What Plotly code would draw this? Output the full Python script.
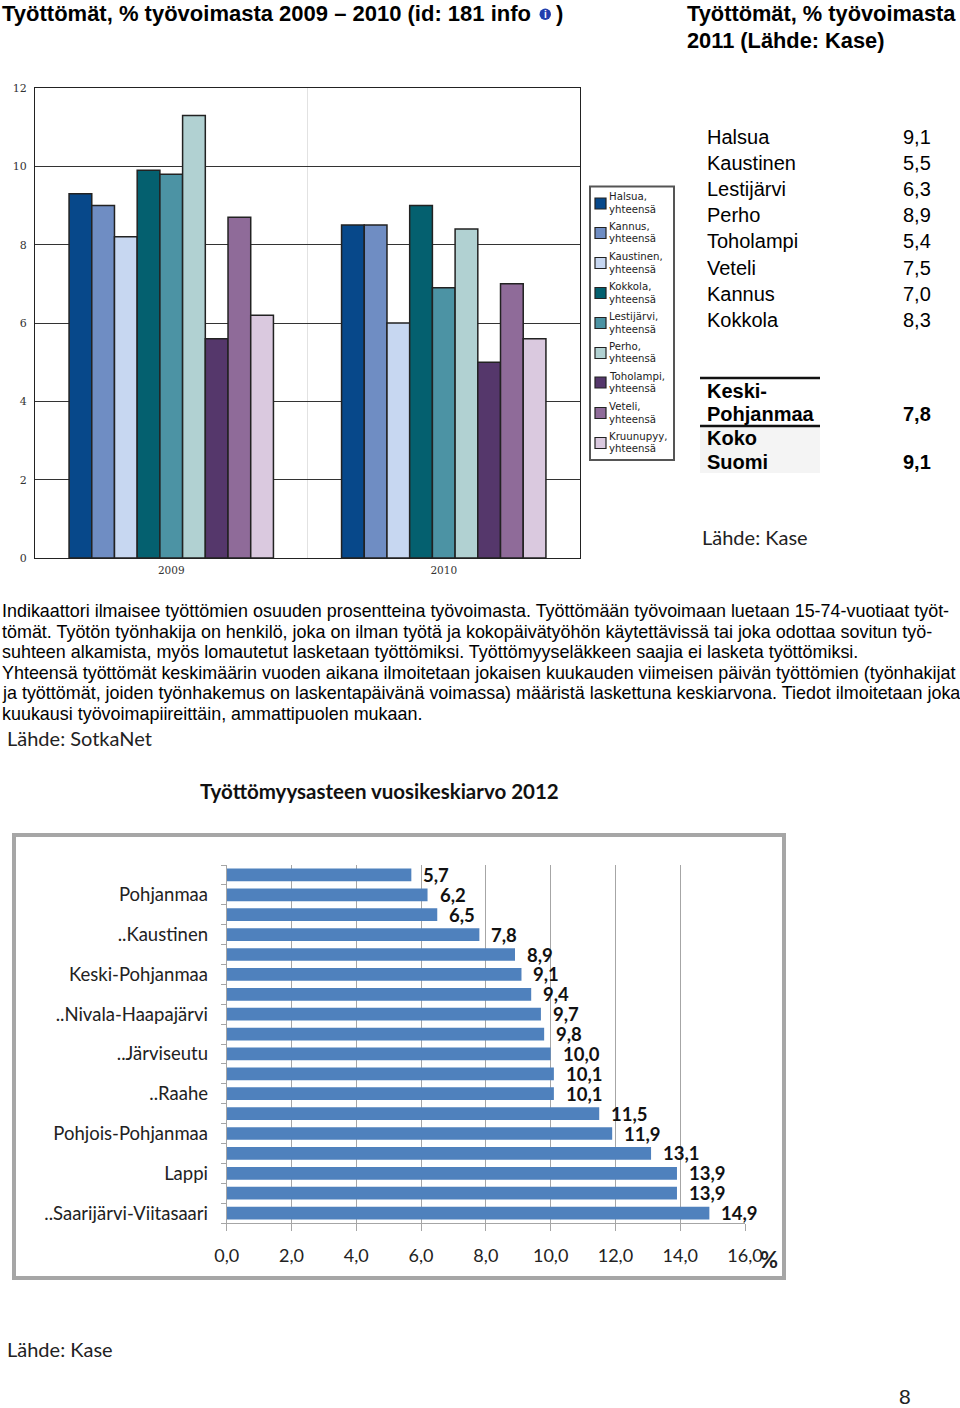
import plotly.graph_objects as go

W, H = 960, 1408

# ---- top chart data
years = ["2009", "2010"]
areas = ["Halsua,", "Kannus,", "Kaustinen,", "Kokkola,", "Lestijärvi,", "Perho,", "Toholampi,", "Veteli,", "Kruunupyy,"]
values_2009 = [9.3, 9.0, 8.2, 9.9, 9.8, 11.3, 5.6, 8.7, 6.2]
values_2010 = [8.5, 8.5, 6.0, 9.0, 6.9, 8.4, 5.0, 7.0, 5.6]
area_colors = ["#07488a", "#6f8dc3", "#c7d7f1", "#04606f", "#4c93a4", "#b1d1d2", "#55376b", "#8f6b99", "#dac9df"]
legend_y = [203.5, 233, 263, 293, 323, 353, 382.5, 413, 443]

# ---- table
table_names = ["Halsua", "Kaustinen", "Lestijärvi", "Perho", "Toholampi", "Veteli", "Kannus", "Kokkola"]
table_values = ["9,1", "5,5", "6,3", "8,9", "5,4", "7,5", "7,0", "8,3"]
table_y = [137, 163, 189, 215, 241, 268, 294, 320]

# ---- paragraph
para_lines = [
    "Indikaattori ilmaisee työttömien osuuden prosentteina työvoimasta. Työttömään työvoimaan luetaan 15-74-vuotiaat työt-",
    "tömät. Työtön työnhakija on henkilö, joka on ilman työtä ja kokopäivätyöhön käytettävissä tai joka odottaa sovitun työ-",
    "suhteen alkamista, myös lomautetut lasketaan työttömiksi. Työttömyyseläkkeen saajia ei lasketa työttömiksi.",
    "Yhteensä työttömät keskimäärin vuoden aikana ilmoitetaan jokaisen kuukauden viimeisen päivän työttömien (työnhakijat",
    "ja työttömät, joiden työnhakemus on laskentapäivänä voimassa) määristä laskettuna keskiarvona. Tiedot ilmoitetaan joka",
    "kuukausi työvoimapiireittäin, ammattipuolen mukaan.",
]
para_y = [611, 632, 652, 673, 693, 714]

# ---- bottom chart data
bar_values = [5.7, 6.2, 6.5, 7.8, 8.9, 9.1, 9.4, 9.7, 9.8, 10.0, 10.1, 10.1, 11.5, 11.9, 13.1, 13.9, 13.9, 14.9]
bar_labels = ["", "Pohjanmaa", "", "..Kaustinen", "", "Keski-Pohjanmaa", "", "..Nivala-Haapajärvi", "",
              "..Järviseutu", "", "..Raahe", "", "Pohjois-Pohjanmaa", "", "Lappi", "", "..Saarijärvi-Viitasaari"]

ARIAL = "Liberation Sans"
CAL = "Lato"

fig = go.Figure()

for i, name in enumerate(areas):
    fig.add_trace(go.Bar(x=years, y=[values_2009[i], values_2010[i]], name=name, showlegend=False,
                         marker=dict(color=area_colors[i], line=dict(color="#222222", width=1.5)),
                         xaxis="x", yaxis="y"))

rows = list(range(len(bar_values)))
fig.add_trace(go.Bar(x=bar_values, y=rows, orientation="h", showlegend=False,
                     marker=dict(color="#4f81bd", line=dict(width=0)), width=0.64,
                     xaxis="x2", yaxis="y2"))

annotations = []
def txt(x, y, s, size, family=ARIAL, bold=False, anchor="left", color="#000000"):
    annotations.append(dict(x=x / W, y=1 - y / H, xref="paper", yref="paper", text=f"<b>{s}</b>" if bold else s,
                            showarrow=False, xanchor=anchor, yanchor="middle", align=anchor,
                            font=dict(family=family, size=size, color=color), borderpad=0, borderwidth=0))

txt(2, 14, "Työttömät, % työvoimasta 2009 – 2010 (id: 181 info", 22, bold=True)
txt(555.5, 14, ")", 22, bold=True)
txt(687, 14, "Työttömät, % työvoimasta", 21.8, bold=True)
txt(687, 40, "2011 (Lähde: Kase)", 21.8, bold=True)
txt(545.5, 14.5, "i", 10, bold=True, anchor="center", color="#ffffff")

for n, v, y in zip(table_names, table_values, table_y):
    txt(707, y, n, 20)
    txt(931, y, v, 20, anchor="right")
txt(707, 391, "Keski-", 20, bold=True)
txt(707, 414, "Pohjanmaa", 20, bold=True)
txt(931, 414, "7,8", 20, bold=True, anchor="right")
txt(707, 438, "Koko", 20, bold=True)
txt(707, 462, "Suomi", 20, bold=True)
txt(931, 462, "9,1", 20, bold=True, anchor="right")
txt(702, 536.5, "Lähde: Kase", 20, family=CAL, color="#222222")

for line, y in zip(para_lines, para_y):
    txt(2, y, line, 17.93)

txt(7, 737.5, "Lähde: SotkaNet", 20, family=CAL, color="#222222")
txt(200, 791, "Työttömyysasteen vuosikeskiarvo 2012", 20.5, family=CAL, bold=True, color="#111111")
txt(760, 1259, "%", 22, family=CAL, bold=True, color="#222222")
txt(7, 1348.5, "Lähde: Kase", 20, family=CAL, color="#222222")
txt(905, 1396, "8", 21, anchor="center", color="#222222")

for name, y in zip(areas, legend_y):
    txt(608.5, y - 6.5, name, 10.2, family="DejaVu Sans", color="#222222")
    txt(608.5, y + 6, "yhteensä", 10.2, family="DejaVu Sans", color="#222222")

for v, r in zip(bar_values, rows):
    annotations.append(dict(x=v, y=r, xref="x2", yref="y2", text=f"<b>{v:.1f}</b>".replace(".", ","), showarrow=False,
                            xanchor="left", yanchor="middle", xshift=10, yshift=0,
                            font=dict(family=CAL, size=18.5, color="#111111")))

def rect(x0, y0, x1, y1, **kw):
    return dict(type="rect", xref="paper", yref="paper", x0=x0 / W, x1=x1 / W, y0=1 - y0 / H, y1=1 - y1 / H, **kw)
def hline(x0, x1, y, **kw):
    return dict(type="line", xref="paper", yref="paper", x0=x0 / W, x1=x1 / W, y0=1 - y / H, y1=1 - y / H, **kw)

shapes = [
    rect(700, 427, 820, 473, fillcolor="#f4f4f4", line=dict(width=0), layer="below"),
    hline(700, 820, 378, line=dict(color="#111111", width=2.5)),
    hline(700, 820, 426, line=dict(color="#111111", width=2.5)),
    dict(type="circle", xref="paper", yref="paper", x0=539.5 / W, x1=551 / W, y0=1 - 20 / H, y1=1 - 8.5 / H,
         fillcolor="#2340ae", line=dict(width=0)),
    rect(14, 835, 784, 1278, fillcolor="rgba(0,0,0,0)", line=dict(color="#a6a6a6", width=4), layer="below"),
    rect(590, 186.5, 674, 460, fillcolor="white", line=dict(color="#555555", width=2)),
]
for color, y in zip(area_colors, legend_y):
    shapes.append(rect(595, y - 5.5, 606, y + 5.5, fillcolor=color, line=dict(color="#222222", width=1.2)))

fig.update_layout(
    width=W, height=H, margin=dict(l=0, r=0, t=0, b=0, pad=0, autoexpand=False), autosize=False,
    paper_bgcolor="white", plot_bgcolor="white", separators=", ", showlegend=False,
    barmode="group", bargap=0.25, bargroupgap=0,
    annotations=annotations, shapes=shapes,
    xaxis=dict(domain=[35 / W, 580 / W], anchor="y", type="category", categoryorder="array", categoryarray=years,
               tickson="boundaries", showgrid=True, gridcolor="#e2e2e2", gridwidth=1,
               showline=True, linecolor="#222222", linewidth=1, mirror=True, ticks="",
               tickfont=dict(family="DejaVu Serif", size=10.5, color="#333333"), ticklabelstandoff=2),
    yaxis=dict(domain=[1 - 558 / H, 1 - 88 / H], anchor="x", range=[0, 12], tickvals=[0, 2, 4, 6, 8, 10, 12],
               showgrid=True, gridcolor="#333333", gridwidth=1, zeroline=False,
               showline=True, linecolor="#222222", linewidth=1, mirror=True, ticks="",
               tickfont=dict(family="DejaVu Serif", size=11, color="#333333"), ticklabelstandoff=5),
    xaxis2=dict(domain=[226.7 / W, 745 / W], anchor="y2", range=[0, 16], tickvals=[0, 2, 4, 6, 8, 10, 12, 14, 16],
                tickformat=".1f", showgrid=True, gridcolor="#a6a6a6", gridwidth=1, zeroline=False, showline=True,
                linecolor="#a6a6a6", ticks="outside", ticklen=7, tickcolor="#a6a6a6",
                tickfont=dict(family=CAL, size=18, color="#222222"), ticklabelstandoff=9),
    yaxis2=dict(domain=[1 - 1223 / H, 1 - 865 / H], anchor="x2", range=[17.5, -0.5],
                tickvals=[r for r, l in zip(rows, bar_labels) if l], ticktext=[l for l in bar_labels if l],
                ticks="", showgrid=False, zeroline=False, showline=True, linecolor="#a6a6a6",
                minor=dict(tickvals=[r - 0.5 for r in rows] + [17.5], ticks="outside", ticklen=5, tickcolor="#a6a6a6",
                           showgrid=False),
                tickfont=dict(family=CAL, size=18.5, color="#222222"), ticklabelstandoff=14),
)

fig.write_html("out.html", post_script="document.body.style.margin='0';",
               config=dict(displayModeBar=False, responsive=False))
